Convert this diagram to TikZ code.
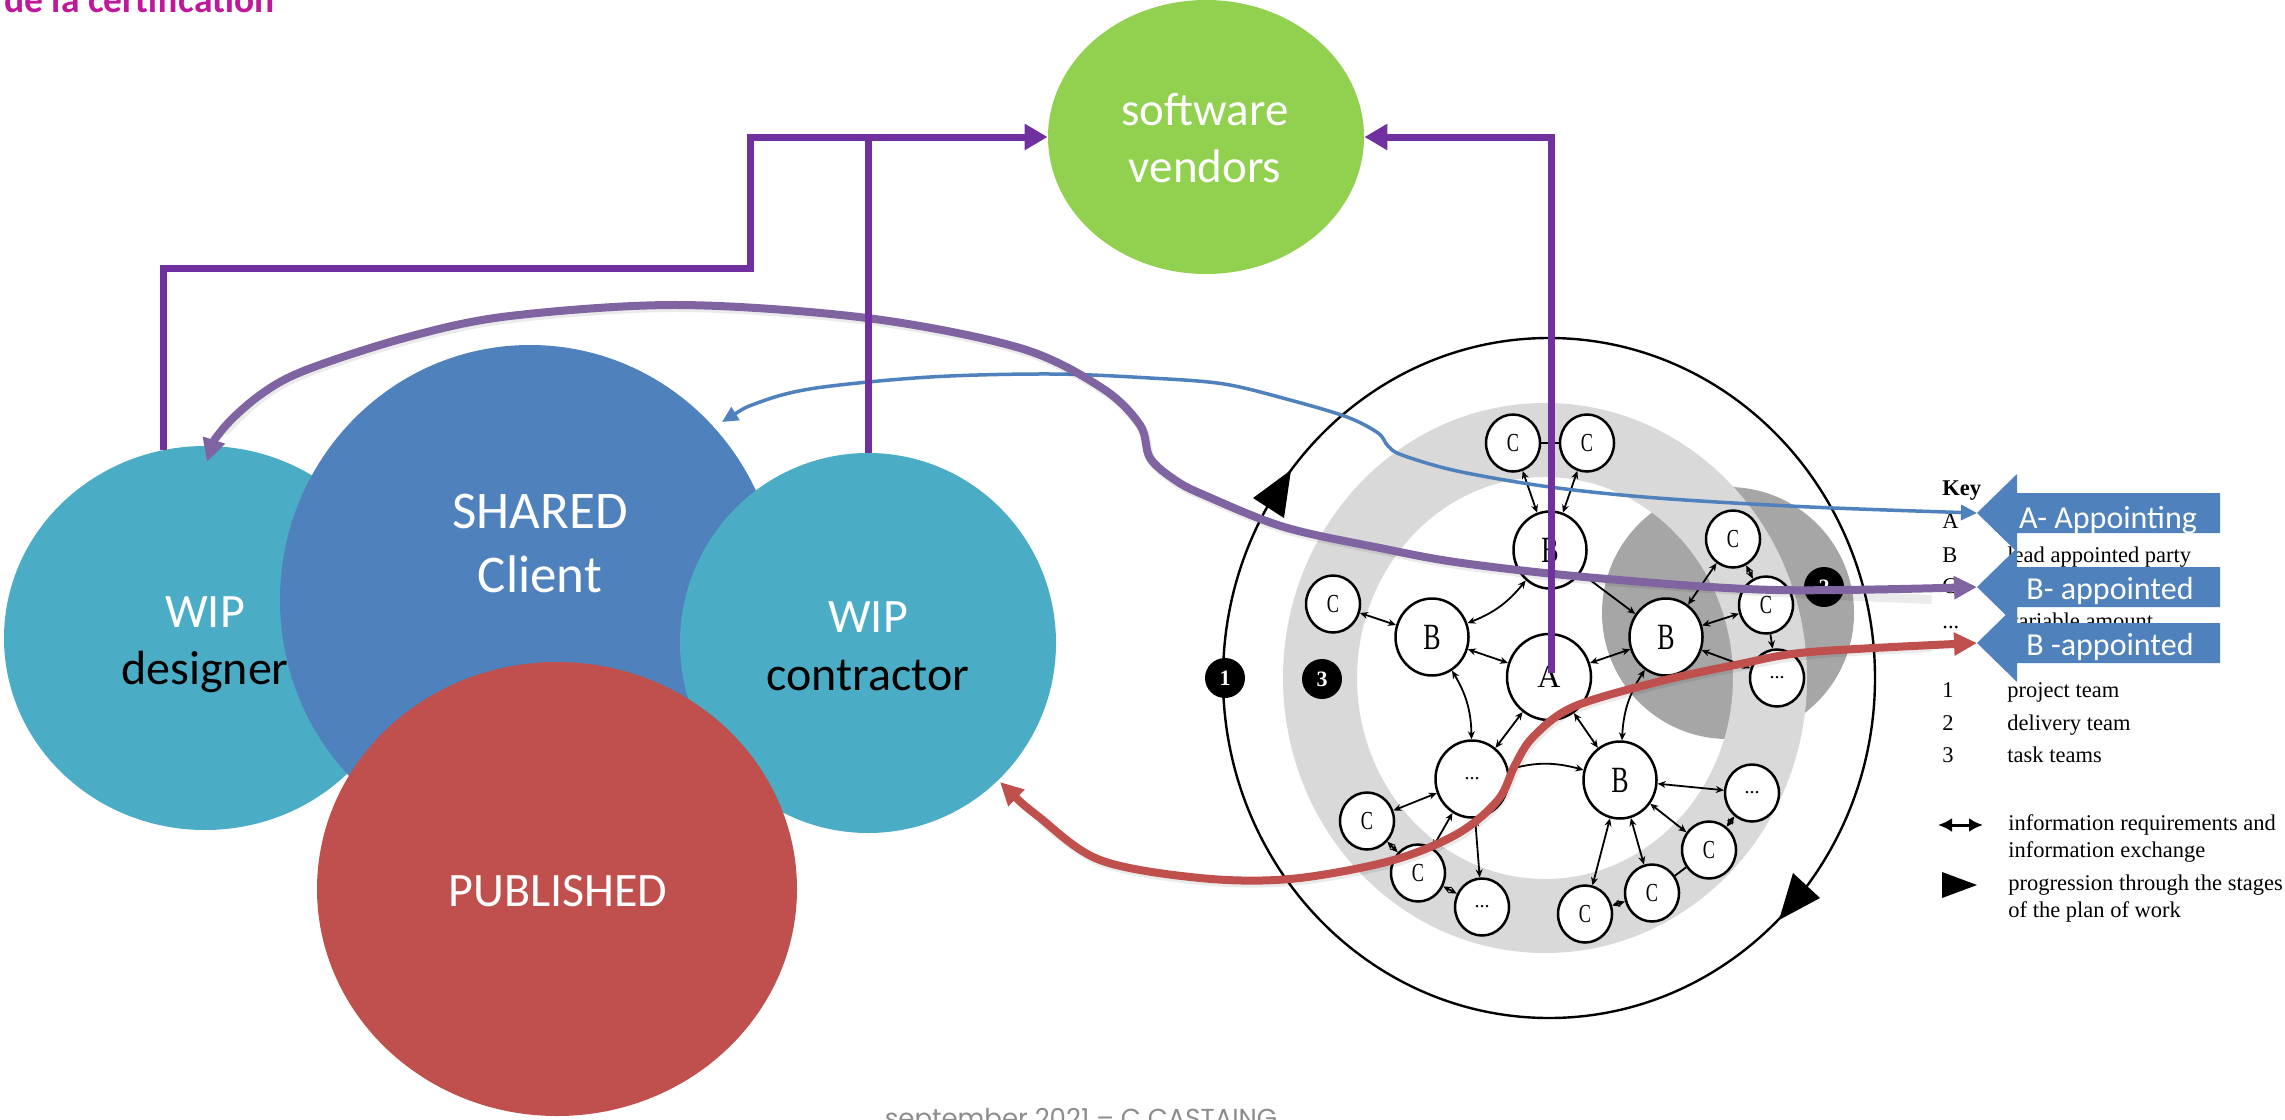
\documentclass[tikz,border=0pt]{standalone}
\usepackage{fontspec}
\newfontfamily\calfont{Carlito}
\newfontfamily\isofont{Liberation Serif}
\newfontfamily\footfont{Poppins}
\usetikzlibrary{shapes.geometric,arrows.meta}
\definecolor{tealc}{HTML}{4BACC6}
\definecolor{bluec}{HTML}{4F81BD}
\definecolor{redc}{HTML}{C0504D}
\definecolor{greenc}{HTML}{92D050}
\definecolor{purpd}{HTML}{7030A0}
\definecolor{purpc}{HTML}{8064A2}
\definecolor{magc}{HTML}{C0189A}
\definecolor{ringc}{HTML}{D9D9D9}
\definecolor{darkc}{HTML}{A6A6A6}
\definecolor{footc}{HTML}{8C8C8C}
\begin{document}
\begin{tikzpicture}[x=0.5pt,y=-0.5pt,
  bigc/.style={ellipse,inner sep=0pt},
  nd/.style={ellipse,draw=black,line width=1.25pt,fill=white,inner sep=0pt},
  cn/.style={nd,minimum width=27pt,minimum height=28.5pt,font=\isofont\fontsize{13}{13}\selectfont},
  bn/.style={nd,minimum width=36.5pt,minimum height=38.5pt,font=\isofont\fontsize{18.5}{18.5}\selectfont},
  an/.style={nd,minimum width=42pt,minimum height=43pt,font=\isofont\fontsize{16}{16}\selectfont},
  ex/.style={line width=0.9pt,{Stealth[length=4pt,width=3.5pt]}-{Stealth[length=4pt,width=3.5pt]}},
  badge/.style={circle,fill=black,text=white,minimum size=20pt,inner sep=0pt,font=\isofont\bfseries\fontsize{11}{11}\selectfont},
  wtxt/.style={anchor=base,inner sep=0pt,text=white,font=\calfont\fontsize{24}{24}\selectfont},
  btxt/.style={anchor=base,inner sep=0pt,text=black,font=\calfont\fontsize{24}{24}\selectfont},
  leg/.style={anchor=base west,inner sep=0pt,font=\isofont\fontsize{11.25}{11.25}\selectfont},
  vline/.style={draw=purpd,line width=3.5pt},
  ctxt/.style={anchor=base,inner sep=0pt,text=white,font=\calfont\fontsize{16}{16}\selectfont},
  shadowline/.style={black,opacity=0.08,line width=4.5pt,shift={(1.5,2.5)}}
]
\useasboundingbox (0,0) rectangle (2285,1119);
\fill[white] (0,0) rectangle (2285,1119);

% ---------------- ISO 19650 figure ----------------
\node[ellipse,draw=black,line width=1.2pt,minimum width=326pt,minimum height=340pt,inner sep=0pt] (outer) at (1549,678) {};
\fill[darkc] (1728,613) circle [radius=63pt];
\fill[ringc,even odd rule] (1545,678) ellipse [x radius=131pt,y radius=137.5pt]
                           (1545,678) ellipse [x radius=94pt,y radius=100.5pt];

\node[cn] (cTL) at (1513,443) {\scalebox{0.7}[1]{C}};
\node[cn] (cTR) at (1587,443) {\scalebox{0.7}[1]{C}};
\node[bn] (bT) at (1550,550) {\scalebox{0.7}[1]{B}};
\node[cn] (cL) at (1333,604) {\scalebox{0.7}[1]{C}};
\node[bn] (bL) at (1432,637) {\scalebox{0.7}[1]{B}};
\node[an] (A) at (1549,677) {A};
\node[bn] (bR) at (1666,637) {\scalebox{0.7}[1]{B}};
\node[cn] (cRT) at (1733,539) {\scalebox{0.7}[1]{C}};
\node[cn] (cRM) at (1766,605) {\scalebox{0.7}[1]{C}};
\node[cn] (dR) at (1777,678) {\fontsize{10}{10}\selectfont ...};
\node[bn] (dLL) at (1472,779) {\fontsize{10}{10}\selectfont ...};
\node[bn] (bLo) at (1620,780) {\scalebox{0.7}[1]{B}};
\node[cn] (dRL) at (1752,793) {\fontsize{10}{10}\selectfont ...};
\node[cn] (cLL) at (1367,821) {\scalebox{0.7}[1]{C}};
\node[cn] (cLL2) at (1418,873) {\scalebox{0.7}[1]{C}};
\node[cn] (dBL) at (1482,907) {\fontsize{10}{10}\selectfont ...};
\node[cn] (cB) at (1585,914) {\scalebox{0.7}[1]{C}};
\node[cn] (cBM) at (1652,893) {\scalebox{0.7}[1]{C}};
\node[cn] (cBR) at (1709,850) {\scalebox{0.7}[1]{C}};

\draw[ex] (cTL) -- (bT);
\draw[ex] (cTR) -- (bT);
\draw[line width=0.9pt] (cTL) -- (cTR);
\draw[ex] (bT) to[bend left=15] (bL);
\draw[ex] (bT) -- (bR);
\draw[ex] (cL) -- (bL);
\draw[ex] (bL) -- (A);
\draw[ex] (A) -- (bR);
\draw[ex] (bR) -- (cRT);
\draw[ex] (cRT) -- (cRM);
\draw[ex] (bR) -- (cRM);
\draw[line width=0.9pt,-{Stealth[length=4pt,width=3.5pt]}] (cRM) -- (dR);
\draw[ex] (bR) -- (dR);
\draw[ex] (bL) to[bend left=15] (dLL);
\draw[ex] (A) -- (dLL);
\draw[ex] (A) -- (bLo);
\draw[ex] (bR) to[bend right=15] (bLo);
\draw[ex] (dLL) to[bend left=15] (bLo);
\draw[ex] (dLL) -- (cLL);
\draw[ex] (dLL) -- (cLL2);
\draw[ex] (dLL) -- (dBL);
\draw[ex] (cLL) -- (cLL2);
\draw[ex] (cLL2) -- (dBL);
\draw[ex] (bLo) -- (cB);
\draw[ex] (bLo) -- (cBM);
\draw[ex] (bLo) -- (dRL);
\draw[ex] (bLo) -- (cBR);
\draw[ex] (cB) -- (cBM);
\draw[line width=0.9pt] (cBM) -- (cBR);
\draw[ex] (cBR) -- (dRL);

\node[badge] (b1) at (1225,678) {1};
\node[badge] (b3) at (1322,679) {3};
\node[badge] (b2) at (1824,587) {2};
\fill (1291,470) -- (1253,498) -- (1284,518) -- cycle;
\fill (1779,920) -- (1793,873) -- (1820,898) -- cycle;

% ---------------- Legend ----------------
\node[leg,font=\isofont\bfseries\fontsize{11.25}{11.25}\selectfont] at (1942,495) {Key};
\node[leg] at (1942,528) {A};
\node[leg] at (1942,562) {B};
\node[leg] at (2007,562) {lead appointed party};
\node[leg] at (1942,593) {C};
\node[leg] at (1942,628) {...};
\node[leg] at (2007,628) {variable amount};
\node[leg] at (1942,697) {1};
\node[leg] at (2007,697) {project team};
\node[leg] at (1942,730) {2};
\node[leg] at (2007,730) {delivery team};
\node[leg] at (1942,762) {3};
\node[leg] at (2007,762) {task teams};
\draw[line width=1.5pt,{Latex[length=7pt,width=7pt]}-{Latex[length=7pt,width=7pt]}] (1938,825) -- (1983,825);
\node[leg] at (2008,830) {information requirements and};
\node[leg] at (2008,857) {information exchange};
\fill (1942,872) -- (1977,885) -- (1942,898) -- cycle;
\node[leg] at (2008,890) {progression through the stages};
\node[leg] at (2008,917) {of the plan of work};

% ---------------- Left circles ----------------
\node[bigc,fill=tealc,minimum width=201pt,minimum height=192pt] (dsg) at (205,638) {};
\node[bigc,fill=bluec,minimum width=250pt,minimum height=255pt] (shr) at (530,600) {};
\node[bigc,fill=tealc,minimum width=188pt,minimum height=190pt] (ctr) at (868,643) {};
\node[bigc,fill=redc,minimum width=240pt,minimum height=227pt] (pub) at (557,889) {};
\node[bigc,fill=greenc,minimum width=158pt,minimum height=137pt] (sv) at (1206,137) {};

\node[wtxt] at (205,627) {WIP};
\node[btxt] at (205,684) {designer};
\node[wtxt] at (868,632) {WIP};
\node[btxt] at (868,690) {contractor};
\node[wtxt,font=\calfont\fontsize{26.5}{26.5}\selectfont] at (540,528) {SHARED};
\node[wtxt,font=\calfont\fontsize{26.5}{26.5}\selectfont] at (540,592) {Client};
\node[wtxt] at (558,906) {PUBLISHED};
\node[wtxt,font=\calfont\fontsize{23.5}{23.5}\selectfont] at (1205,125) {software};
\node[wtxt,font=\calfont\fontsize{23.5}{23.5}\selectfont] at (1205,182) {vendors};

% ---------------- Callouts ----------------
\foreach \c/\h/\nm in {513/39/ca1,587/39/ca2,643/39/ca3}{
  \fill[bluec] (1977,\c) -- (2017,\c-\h) -- (2017,\c-20) -- (2220,\c-20) -- (2220,\c+20)
               -- (2017,\c+20) -- (2017,\c+\h) -- cycle;
  \coordinate (\nm) at (1977,\c);
}
\node[ctxt] at (2108,528) {A- Appointing};
\node[ctxt] at (2110,599) {B- appointed};
\node[ctxt] at (2110,655) {B -appointed};

% ---------------- Curved connectors ----------------
\coordinate (shrpt) at (722,422);
\coordinate (dsgpt) at (207,462);
\coordinate (ctrpt) at (1000,782);
\draw[bluec,line width=1.75pt,{Triangle[length=8pt,width=7.5pt]}-{Triangle[length=8pt,width=7.5pt]}]
  plot[smooth,tension=0.55] coordinates {(shrpt) (760,402) (816,388) (930,377) (1051,374) (1150,378) (1224,384) (1290,400) (1347,417) (1378,433) (1388,446) (1402,455) (1457,471) (1550,487) (1657,498) (1810,507) (ca1)};
\draw[shadowline]
  plot[smooth,tension=0.55] coordinates {(222,430) (260,395) (306,370) (408,337) (510,316) (679,305) (867,318) (1020,348) (1102,388) (1140,425) (1150,458) (1175,480) (1204,495) (1284,527) (1380,548) (1462,563) (1596,578) (1775,590) (1930,597)};
\draw[purpc,line width=4pt,{Triangle[length=11.5pt,width=11pt]}-{Triangle[length=11.5pt,width=11pt]}]
  plot[smooth,tension=0.55] coordinates {(dsgpt) (222,430) (260,395) (306,370) (408,337) (510,316) (679,305) (867,318) (1020,348) (1102,388) (1140,425) (1150,458) (1175,480) (1204,495) (1284,527) (1380,548) (1462,563) (1596,578) (1775,590) (ca2)};
\draw[shadowline]
  plot[smooth,tension=0.55] coordinates {(1039,817) (1100,860) (1200,878) (1290,879) (1390,861) (1457,834) (1498,800) (1515,765) (1533,737) (1573,707) (1657,682) (1740,664) (1810,652) (1930,645)};
\draw[redc,line width=4pt,{Triangle[length=11.5pt,width=11pt]}-{Triangle[length=11.5pt,width=11pt]}]
  plot[smooth,tension=0.55] coordinates {(ctrpt) (1039,817) (1100,860) (1200,878) (1290,879) (1390,861) (1457,834) (1498,800) (1515,765) (1533,737) (1573,707) (1657,682) (1740,664) (1810,652) (ca3)};

% ---------------- Purple connectors to software vendors ----------------
\coordinate (dsgtop) at (163,450);
\coordinate (ctrtop) at (868,453);
\coordinate (atop) at (1551,673);
\draw[vline,-{Triangle[length=11.5pt,width=12.5pt]}] (dsgtop) |- (750,268) |- (sv.west);
\draw[vline] (ctrtop) -- (ctrtop |- sv.west);
\draw[vline,-{Triangle[length=11.5pt,width=12.5pt]}] (atop) |- (sv.east);

% ---------------- Title and footer ----------------
\node[anchor=base west,inner sep=0pt,text=magc,font=\calfont\bfseries\fontsize{18.75}{18.75}\selectfont] at (4,12) {de la certification};
\node[anchor=base,inner sep=0pt,text=footc,font=\footfont\fontsize{13}{13}\selectfont] at (1081,1127) {september 2021 – C CASTAING};
\end{tikzpicture}
\end{document}
